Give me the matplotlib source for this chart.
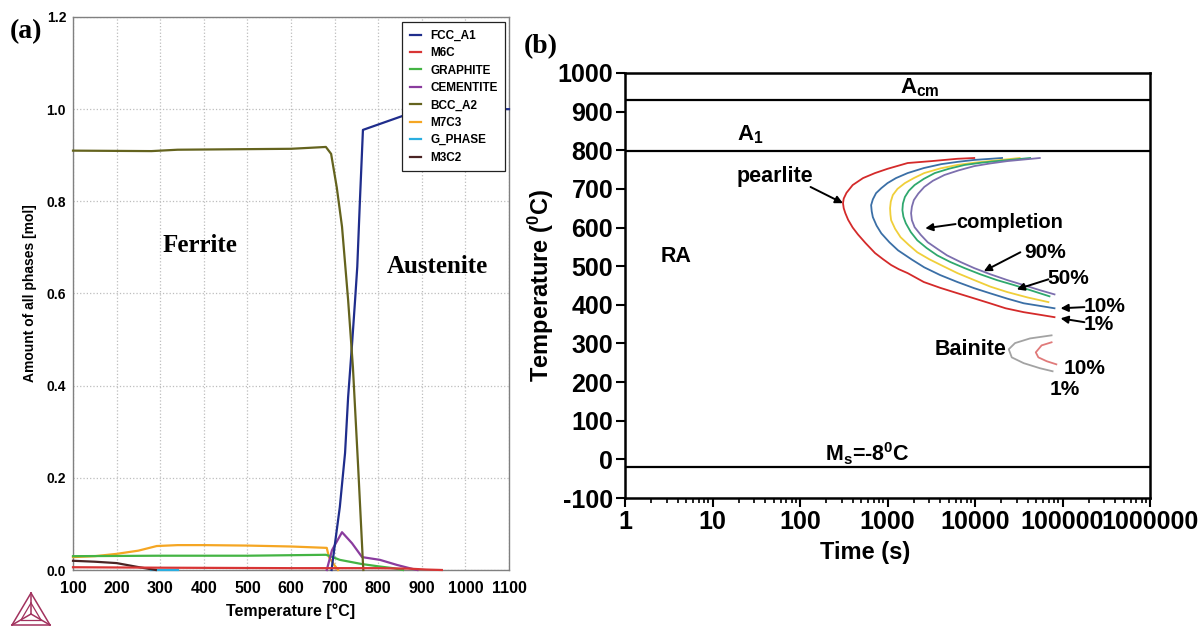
import numpy as np
import matplotlib
matplotlib.use('Agg')
import matplotlib.pyplot as plt
from matplotlib.lines import Line2D
from matplotlib.ticker import FixedLocator, LogLocator, NullFormatter, FuncFormatter

plt.rcParams['font.family'] = ['Liberation Sans', 'DejaVu Sans']
plt.rcParams['font.weight'] = 'bold'
plt.rcParams['axes.labelweight'] = 'bold'
plt.rcParams['axes.unicode_minus'] = False
plt.rcParams['mathtext.fontset'] = 'custom'
plt.rcParams['mathtext.rm'] = 'Liberation Sans:bold'
plt.rcParams['mathtext.bf'] = 'Liberation Sans:bold'
plt.rcParams['mathtext.it'] = 'Liberation Sans:bold'
plt.rcParams['mathtext.default'] = 'bf'

NARROW = ['Liberation Sans Narrow', 'Liberation Sans', 'DejaVu Sans']

# ---------------- Panel (a) data: amount of phases vs temperature ----------------
phase_names = ['FCC_A1', 'M6C', 'GRAPHITE', 'CEMENTITE', 'BCC_A2', 'M7C3', 'G_PHASE', 'M3C2']
phase_colors = ['#1f2d8c', '#d83535', '#44b444', '#8a3c9e', '#64631e', '#f5a623', '#2aaee0', '#4a2424']

fcc_T = [693, 701, 712, 724, 731, 740, 747, 752, 758, 765, 855, 900, 950, 1100]
fcc_n = [0.0, 0.058, 0.137, 0.254, 0.375, 0.49, 0.586, 0.658, 0.80, 0.955, 0.985, 0.997, 1.0, 1.0]

m6c_T = [100, 300, 600, 800, 870, 910, 946]
m6c_n = [0.006, 0.005, 0.004, 0.004, 0.003, 0.001, 0.0]

graphite_T = [100, 300, 500, 680, 690, 712, 762, 800, 834, 857]
graphite_n = [0.030, 0.031, 0.031, 0.033, 0.030, 0.022, 0.013, 0.008, 0.004, 0.0]

cementite_T = [682, 694, 717, 740, 763, 804, 843, 880, 890]
cementite_n = [0.0, 0.043, 0.082, 0.058, 0.028, 0.022, 0.011, 0.002, 0.0]

bcc_T = [100, 280, 340, 600, 680, 692, 705, 717, 731, 742, 754, 765, 766]
bcc_n = [0.910, 0.909, 0.912, 0.914, 0.918, 0.903, 0.83, 0.745, 0.586, 0.44, 0.224, 0.015, 0.0]

m7c3_T = [100, 150, 200, 250, 292, 340, 400, 500, 600, 682, 687, 700, 708]
m7c3_n = [0.028, 0.030, 0.035, 0.042, 0.052, 0.054, 0.054, 0.053, 0.051, 0.048, 0.028, 0.010, 0.0]

gphase_T = [280, 300, 340]
gphase_n = [0.001, 0.001, 0.001]

m3c2_T = [100, 150, 200, 246, 277, 290]
m3c2_n = [0.020, 0.018, 0.015, 0.007, 0.002, 0.0]

# ---------------- Panel (b) data: TTT diagram ----------------
A_cm = 930
A_1 = 797
M_s_line = -21

red_t = [9800, 6300, 3200, 1700, 1000, 720, 525, 400, 340, 316, 310, 316, 330, 355, 400, 460,
         560, 720, 890, 1100, 1350, 1700, 2600, 4000, 6300, 10000, 14800, 22400, 36000, 56000, 81000]
red_T = [780, 778, 772, 767, 752, 741, 728, 710, 690, 675, 663, 650, 637, 620, 600, 582,
         560, 534, 518, 503, 492, 482, 459, 444, 430, 416, 404, 391, 381, 374, 368]

blue_t = [20400, 9800, 6300, 4100, 2600, 1700, 1250, 1000, 850, 740, 680, 650, 660, 680, 750,
          850, 1050, 1320, 1900, 2630, 4000, 6300, 9800, 14800, 23400, 36000, 56000, 81000]
blue_T = [780, 775, 770, 764, 754, 741, 728, 715, 702, 689, 673, 658, 642, 627, 605,
          585, 562, 541, 517, 497, 477, 459, 443, 430, 416, 404, 397, 391]

yellow_t = [32400, 14800, 10000, 6300, 4000, 2630, 2000, 1580, 1300, 1150, 1090, 1070, 1080, 1100,
            1220, 1410, 1750, 2190, 3000, 4070, 6300, 9800, 15000, 23400, 40000, 69000]
yellow_T = [780, 772, 768, 762, 753, 741, 728, 715, 700, 684, 667, 650, 634, 619,
            597, 575, 555, 536, 518, 503, 482, 464, 447, 433, 419, 407]

green_t = [42700, 17800, 12000, 7600, 5000, 3470, 2600, 2040, 1750, 1580, 1500, 1480, 1520, 1620,
           1850, 2190, 2800, 3700, 5200, 7600, 11500, 17800, 28000, 42700, 71000]
green_T = [780, 772, 768, 762, 752, 741, 726, 710, 695, 679, 662, 645, 628, 611,
           588, 567, 547, 528, 511, 495, 479, 464, 451, 438, 422]

purple_t = [55000, 23400, 15000, 9800, 6500, 4470, 3300, 2630, 2250, 2000, 1900, 1860, 1900, 2040,
            2400, 2880, 3700, 4790, 6800, 9800, 15000, 23400, 36000, 55000, 81000]
purple_T = [780, 772, 766, 759, 748, 736, 721, 705, 688, 671, 654, 637, 619, 601,
            581, 562, 545, 528, 511, 495, 479, 464, 451, 438, 427]

bain1_t = [75000, 42500, 28700, 24300, 26300, 36000, 55000, 77000]
bain1_T = [321, 313, 301, 285, 264, 249, 236, 228]

bain10_t = [75000, 57700, 49500, 53000, 66000, 85000]
bain10_T = [303, 295, 277, 264, 254, 246]

W, H = 1204, 626
fig = plt.figure(figsize=(W / 100, H / 100), dpi=100)


def px(x, y):
    return x / W, 1 - y / H


# ================= Panel (a) =================
ax1 = fig.add_axes([73 / W, 1 - 570 / H, 436 / W, 553 / H])
series = [(fcc_T, fcc_n), (m6c_T, m6c_n), (graphite_T, graphite_n), (cementite_T, cementite_n),
          (bcc_T, bcc_n), (m7c3_T, m7c3_n), (gphase_T, gphase_n), (m3c2_T, m3c2_n)]
handles = []
zorders = [6, 7, 4, 5, 6, 3, 3, 3]
for (tt, nn), name, col, zo in zip(series, phase_names, phase_colors, zorders):
    ln, = ax1.plot(tt, nn, color=col, lw=1.6, label=name, zorder=zo, clip_on=False)
    handles.append(ln)

ax1.set_xlim(100, 1100)
ax1.set_ylim(0, 1.2)
ax1.set_xticks(np.arange(100, 1101, 100))
ax1.set_yticks(np.arange(0, 1.21, 0.2))
ax1.set_yticklabels(['%.1f' % v for v in np.arange(0, 1.21, 0.2)])
ax1.grid(True, linestyle=':', color='#bdbdbd', linewidth=0.9)
for sp in ax1.spines.values():
    sp.set_color('#808080')
    sp.set_linewidth(1.0)
ax1.tick_params(axis='x', length=0, pad=8, labelsize=11.5)
ax1.tick_params(axis='y', length=0, pad=5, labelsize=10)
ax1.set_xlabel('Temperature [°C]', fontsize=11.5, labelpad=5)
ax1.set_ylabel('Amount of all phases [mol]', fontsize=10, labelpad=7)

leg = ax1.legend(handles=handles, loc='upper right', bbox_to_anchor=(0.991, 0.991),
                 borderaxespad=0, fontsize=8.5, frameon=True, fancybox=False,
                 framealpha=1, edgecolor='#222222', handlelength=0.9, handletextpad=0.8,
                 labelspacing=0.46, borderpad=0.65)
leg.get_frame().set_linewidth(0.9)
leg.set_zorder(10)

ax1.text(391, 0.705, 'Ferrite', family='Liberation Serif', fontsize=18, weight='bold',
         ha='center', va='center')
ax1.text(935, 0.658, 'Austenite', family='Liberation Serif', fontsize=18, weight='bold',
         ha='center', va='center')

fig.text(*px(10, 32), '(a)', family='Liberation Serif', fontsize=20, weight='bold',
         ha='left', va='center')

# Thermo-Calc style logo (triangle)
logo_col = '#a2325e'
v1, v2, v3 = px(12, 625), px(50, 625), px(31, 593)
cen = px(31, 614)
for a, b in [(v1, v2), (v2, v3), (v3, v1), (v1, cen), (v2, cen), (v3, cen)]:
    fig.add_artist(Line2D([a[0], b[0]], [a[1], b[1]], color=logo_col, lw=1.1,
                          transform=fig.transFigure))
i1, i2, i3 = px(21, 620), px(41, 620), px(31, 603)
for a, b in [(i1, i2), (i2, i3), (i3, i1)]:
    fig.add_artist(Line2D([a[0], b[0]], [a[1], b[1]], color=logo_col, lw=0.9,
                          transform=fig.transFigure))

# ================= Panel (b) =================
ax2 = fig.add_axes([625 / W, 1 - 498 / H, 525 / W, 425 / H])
ax2.set_xscale('log')
ax2.set_xlim(1, 1e6)
ax2.set_ylim(-100, 1000)

for yv in [A_cm, A_1, M_s_line]:
    ax2.axhline(yv, color='black', lw=1.6, zorder=2)

ax2.plot(red_t, red_T, color='#d42a2a', lw=1.3)
ax2.plot(blue_t, blue_T, color='#3b6fa6', lw=1.3)
ax2.plot(yellow_t, yellow_T, color='#f0cf3a', lw=1.3)
ax2.plot(green_t, green_T, color='#2fa86e', lw=1.3)
ax2.plot(purple_t, purple_T, color='#7c6fae', lw=1.3)
ax2.plot(bain1_t, bain1_T, color='#a3a3a3', lw=1.3)
ax2.plot(bain10_t, bain10_T, color='#e07a7a', lw=1.3)

ax2.set_yticks(np.arange(-100, 1001, 100))
ax2.xaxis.set_major_locator(FixedLocator([1, 10, 100, 1e3, 1e4, 1e5, 1e6]))
ax2.xaxis.set_major_formatter(FuncFormatter(lambda v, p: '%d' % round(v)))
ax2.xaxis.set_minor_locator(LogLocator(base=10, subs=np.arange(2, 10)))
ax2.xaxis.set_minor_formatter(NullFormatter())
ax2.tick_params(axis='both', which='major', direction='out', length=6.5, width=1.5,
                labelsize=18, pad=2)
ax2.tick_params(axis='x', which='minor', direction='out', length=3.5, width=1.2)
for lbl in ax2.get_xticklabels() + ax2.get_yticklabels():
    lbl.set_family(NARROW)
for sp in ax2.spines.values():
    sp.set_linewidth(1.8)
    sp.set_color('black')
ax2.set_xlabel('Time (s)', fontsize=17)
ax2.set_ylabel('Temperature ($^{0}$C)', fontsize=17)
ax2.xaxis.set_label_coords(0.457, -0.100)
ax2.yaxis.set_label_coords(-0.131, 0.5)

ax2.text(2340, 948, r'A$_{cm}$', fontsize=16, ha='center', va='baseline')
ax2.text(19, 826, r'A$_{1}$', fontsize=16, ha='left', va='baseline')
ax2.text(3.8, 524, 'RA', fontsize=15.5, ha='center', va='center')
ax2.text(585, -5, r'M$_{s}$=-8$^{0}$C', fontsize=15.5, ha='center', va='baseline')
ax2.text(8900, 285, 'Bainite', fontsize=15.5, ha='center', va='center')
ax2.text(178000, 236, '10%', fontsize=15, ha='center', va='center')
ax2.text(105000, 181, '1%', fontsize=15, ha='center', va='center')

arrow = dict(arrowstyle='-|>', color='black', lw=1.4, mutation_scale=11,
             shrinkA=0, shrinkB=0)
ax2.text(51, 731, 'pearlite', fontsize=15.5, ha='center', va='center')
ax2.annotate('', xy=(310, 663), xytext=(132, 705), arrowprops=arrow)
ax2.text(25100, 614, 'completion', fontsize=14.5, ha='center', va='center')
ax2.annotate('', xy=(2700, 598), xytext=(6000, 609), arrowprops=arrow)
ax2.text(63000, 536, '90%', fontsize=15, ha='center', va='center')
ax2.annotate('', xy=(12600, 487), xytext=(33000, 536), arrowprops=arrow)
ax2.text(117000, 469, '50%', fontsize=15, ha='center', va='center')
ax2.annotate('', xy=(30000, 440), xytext=(69000, 466), arrowprops=arrow)
ax2.text(300000, 396, '10%', fontsize=15, ha='center', va='center')
ax2.annotate('', xy=(95000, 391), xytext=(178000, 394), arrowprops=arrow)
ax2.text(257000, 350, '1%', fontsize=15, ha='center', va='center')
ax2.annotate('', xy=(95000, 365), xytext=(178000, 355), arrowprops=arrow)

fig.text(*px(524, 47), '(b)', family='Liberation Serif', fontsize=20, weight='bold',
         ha='left', va='center')

fig.savefig('out.png', dpi=100)
